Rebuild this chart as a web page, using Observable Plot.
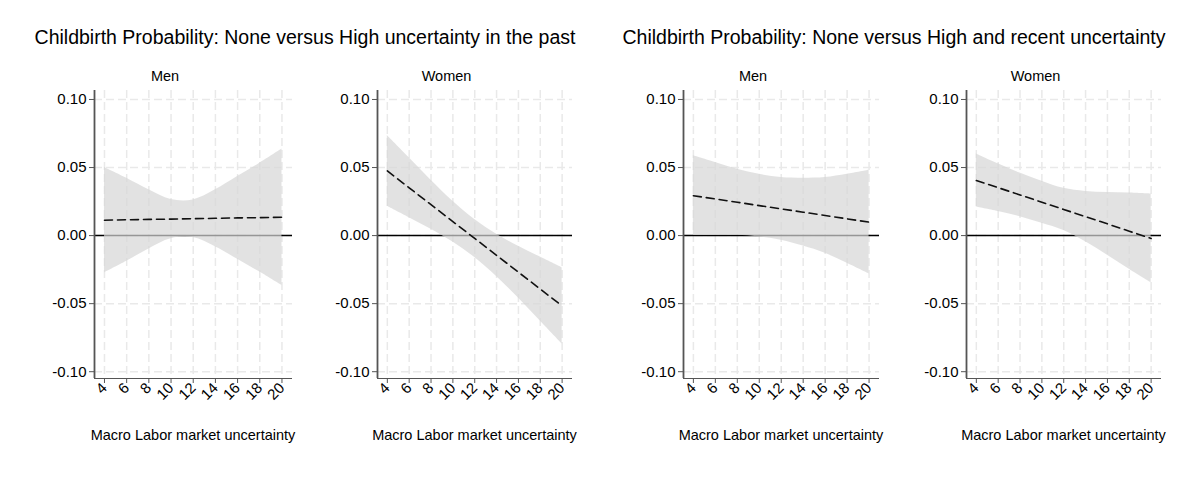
<!DOCTYPE html>
<html>
<head>
<meta charset="utf-8">
<script src="https://cdn.jsdelivr.net/npm/d3@7"></script>
<script src="https://cdn.jsdelivr.net/npm/@observablehq/plot@0.6"></script>
<style>
  body { margin: 0; background: #fff; font-family: "Liberation Sans", Arial, Helvetica, sans-serif; }
  #wrap { position: relative; width: 1200px; height: 500px; overflow: hidden; }
  .t { position: absolute; white-space: nowrap; transform: translateX(-50%); line-height: 1; color: #000; }
  .panel { position: absolute; top: 0; }
</style>
</head>
<body>
<div id="wrap"></div>
<script>
// ---- data ----
const groupTitles = [
  "Childbirth Probability: None versus High uncertainty in the past",
  "Childbirth Probability: None versus High and recent uncertainty"
];
const panelTitles = ["Men", "Women", "Men", "Women"];
const xLabel = "Macro Labor market uncertainty";
const xs = [4, 6, 8, 10, 12, 14, 16, 18, 20];
const xTicks = [4, 6, 8, 10, 12, 14, 16, 18, 20];
const yTicks = [-0.10, -0.05, 0.00, 0.05, 0.10];

// Panel 1: Men, past
const menPastEst = [0.0113, 0.0116, 0.0119, 0.0121, 0.0124, 0.0127, 0.0130, 0.0132, 0.0135];
const menPastHi  = [0.0500, 0.0421, 0.0336, 0.0265, 0.0262, 0.0336, 0.0434, 0.0532, 0.0637];
const menPastLo  = [-0.0274, -0.0189, -0.0098, -0.0023, -0.0014, -0.0082, -0.0174, -0.0268, -0.0367];
// Panel 2: Women, past
const womenPastEst = [0.0475, 0.0351, 0.0227, 0.0103, -0.0021, -0.0145, -0.0269, -0.0393, -0.0517];
const womenPastHi  = [0.0735, 0.0571, 0.0407, 0.0253, 0.0119, 0.0010, -0.0079, -0.0158, -0.0237];
const womenPastLo  = [0.0215, 0.0131, 0.0047, -0.0047, -0.0161, -0.0300, -0.0459, -0.0628, -0.0797];
// Panel 3: Men, recent
const menRecentEst = [0.0293, 0.0269, 0.0245, 0.0220, 0.0196, 0.0172, 0.0148, 0.0123, 0.0099];
const menRecentHi  = [0.0586, 0.0537, 0.0488, 0.0450, 0.0426, 0.0421, 0.0426, 0.0450, 0.0480];
const menRecentLo  = [0.0000, 0.0001, 0.0002, -0.0010, -0.0034, -0.0077, -0.0130, -0.0204, -0.0282];
// Panel 4: Women, recent
const womenRecentEst = [0.0405, 0.0352, 0.0299, 0.0245, 0.0192, 0.0139, 0.0086, 0.0032, -0.0021];
const womenRecentHi  = [0.0600, 0.0527, 0.0459, 0.0400, 0.0347, 0.0324, 0.0316, 0.0312, 0.0305];
const womenRecentLo  = [0.0210, 0.0177, 0.0139, 0.0090, 0.0037, -0.0046, -0.0144, -0.0248, -0.0347];

// ---- layout ----
const xDomain = [3.1, 20.95];
const yDomain = [-0.105, 0.1066];
const H = 430, MT = 90, MB = 52, ML = 60, MR = 10;
const panels = [
  {axis: 94,  right: 292,  est: menPastEst,     hi: menPastHi,     lo: menPastLo},
  {axis: 377, right: 572,  est: womenPastEst,   hi: womenPastHi,   lo: womenPastLo},
  {axis: 683, right: 879,  est: menRecentEst,   hi: menRecentHi,   lo: menRecentLo},
  {axis: 966, right: 1161, est: womenRecentEst, hi: womenRecentHi, lo: womenRecentLo}
];

const wrap = document.getElementById("wrap");
function addText(txt, cx, top, size) {
  const d = document.createElement("div");
  d.className = "t";
  d.textContent = txt;
  d.style.left = cx + "px";
  d.style.top = top + "px";
  d.style.fontSize = size + "px";
  wrap.appendChild(d);
}

addText(groupTitles[0], 305, 28, 19.5);
addText(groupTitles[1], 894, 28, 19.5);

panels.forEach((p, i) => {
  const rows = xs.map((x, j) => ({x, est: p.est[j], hi: p.hi[j], lo: p.lo[j]}));
  const left = p.axis - ML;
  const width = p.right - left + MR;
  const chart = Plot.plot({
    width, height: H,
    marginLeft: ML, marginRight: MR, marginTop: MT, marginBottom: MB,
    x: {domain: xDomain, label: null},
    y: {domain: yDomain, label: null},
    style: {fontFamily: '"Liberation Sans", Arial, Helvetica, sans-serif', color: "#000", background: "transparent", overflow: "visible"},
    marks: [
      Plot.ruleX(xTicks, {stroke: "#e9e9e9", strokeWidth: 1.5, strokeDasharray: "8,4"}),
      Plot.ruleY(yTicks, {stroke: "#e9e9e9", strokeWidth: 1.5, strokeDasharray: "8,4"}),
      Plot.ruleY([0], {stroke: "#000", strokeWidth: 1.5}),
      Plot.areaY(rows, {x: "x", y1: "lo", y2: "hi", fill: "#d6d6d6", fillOpacity: 0.7, curve: "catmull-rom"}),
      Plot.lineY(rows, {x: "x", y: "est", stroke: "#111", strokeWidth: 1.6, strokeDasharray: "8,5"}),
      Plot.ruleX([xDomain[0]], {stroke: "#555", strokeWidth: 1.8}),
      Plot.ruleY([yDomain[0]], {stroke: "#555", strokeWidth: 1.2}),
      Plot.axisY(yTicks, {tickFormat: d => d.toFixed(2), tickSize: 5, tickPadding: 3, fontSize: 15, stroke: "#555", label: null}),
      Plot.axisX(xTicks, {tickRotate: -45, tickSize: 5, tickPadding: 2, fontSize: 15, stroke: "#555", label: null})
    ]
  });
  chart.classList.add("panel");
  chart.style.left = left + "px";
  wrap.appendChild(chart);
  const plotCenter = (p.axis + p.right) / 2;
  addText(panelTitles[i], plotCenter - 28, 69, 14.5);
  addText(xLabel, plotCenter, 428, 14.5);
});
</script>
</body>
</html>
